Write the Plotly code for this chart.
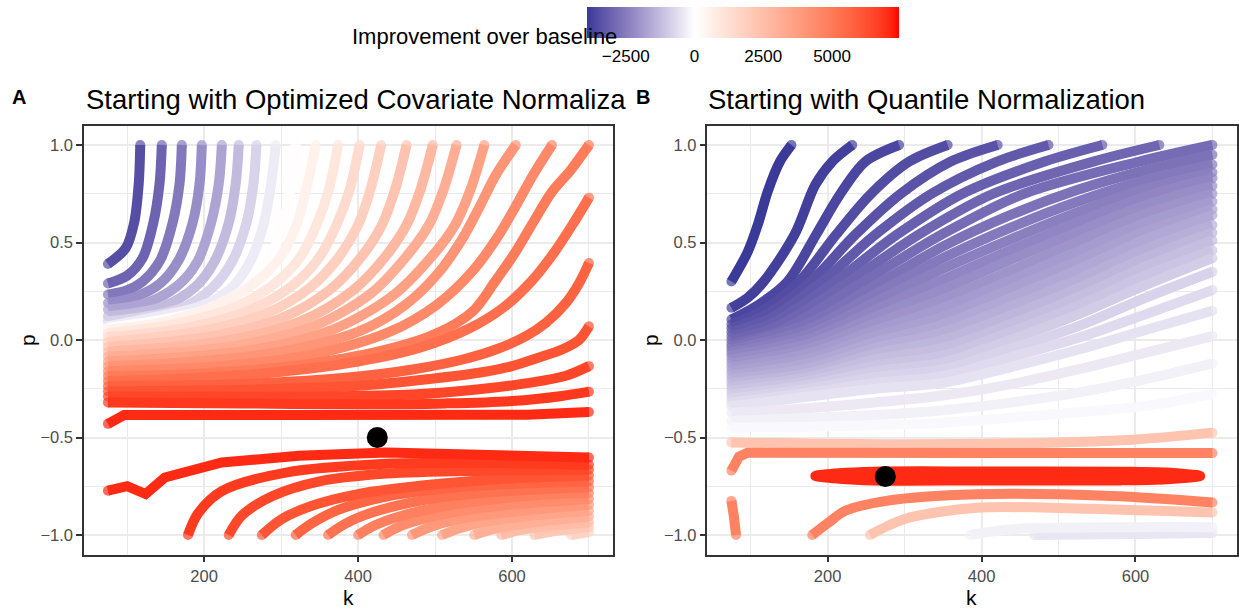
import plotly.graph_objects as go

# ------------------------------------------------------------------
# Colour scale (shared legend)
CB_MIN, CB_MAX = -3908, 7434
CB_TICKS = [-2500, 0, 2500, 5000]
CB_TICKTEXT = ["\u22122500", "0", "2500", "5000"]
LOW, MID, HIGH = "#3A3A98", "#FFFFFF", "#FF0000"

# ------------------------------------------------------------------
# Panel A: contour lines that cross the upper part (level order)
A_UP_LEVEL = [-3450, -3010, -2570, -2130, -1690, -1250, -810, -370, 70,
              510, 950, 1390, 1830, 2270, 2710, 3150, 3590, 4030, 4470,
              4910, 5350, 5750, 6150, 6500, 6800, 7050]
A_UP_K = [
    [117, 115, 109, 98, 75],
    [145, 142, 134, 120, 100, 75],
    [171, 168, 159, 143, 120, 100, 75],
    [197, 194, 185, 167, 143, 110, 75],
    [223, 219, 209, 191, 166, 125, 75],
    [245, 241, 232, 213, 188, 145, 75],
    [268, 264, 255, 236, 210, 168, 75],
    [293, 287, 277, 259, 233, 195, 130, 75],
    [319, 313, 302, 283, 255, 210, 140, 75],
    [345, 332, 320, 298, 268, 216, 152, 75],
    [374, 362, 346, 324, 292, 240, 165, 75],
    [402, 389, 372, 349, 315, 260, 180, 75],
    [430, 416, 400, 374, 338, 280, 195, 75],
    [463, 448, 431, 403, 364, 302, 210, 75],
    [497, 481, 463, 434, 392, 325, 225, 75],
    [528, 511, 492, 461, 417, 345, 240, 75],
    [564, 546, 526, 494, 446, 368, 255, 75],
    [605, 579, 557, 536, 506, 462, 402, 300, 190, 75],
    [652, 628, 604, 580, 548, 502, 440, 340, 220, 75],
    [700, 676, 652, 627, 605, 578, 549, 500, 420, 300, 180, 75],
    [700, 680, 655, 625, 590, 545, 480, 400, 280, 160, 75],
    [700, 687, 670, 644, 618, 579, 536, 471, 380, 250, 75],
    [700, 687, 665, 635, 600, 557, 493, 400, 250, 75],
    [700, 669, 622, 557, 471, 350, 200, 75],
    [700, 665, 600, 514, 400, 250, 75],
    [75, 96, 300, 550, 620, 700],
]
A_UP_P = [
    [1.0, 0.80, 0.60, 0.47, 0.39],
    [1.0, 0.80, 0.60, 0.42, 0.33, 0.29],
    [1.0, 0.80, 0.60, 0.41, 0.30, 0.255, 0.233],
    [1.0, 0.80, 0.60, 0.41, 0.29, 0.22, 0.19],
    [1.0, 0.80, 0.60, 0.40, 0.28, 0.19, 0.156],
    [1.0, 0.80, 0.60, 0.40, 0.27, 0.17, 0.122],
    [1.0, 0.80, 0.60, 0.40, 0.265, 0.16, 0.096],
    [1.0, 0.80, 0.59, 0.395, 0.258, 0.173, 0.113, 0.07],
    [1.0, 0.80, 0.59, 0.40, 0.27, 0.165, 0.10, 0.062],
    [1.0, 0.76, 0.59, 0.42, 0.30, 0.18, 0.096, 0.054],
    [1.0, 0.77, 0.59, 0.42, 0.29, 0.17, 0.085, 0.035],
    [1.0, 0.77, 0.59, 0.42, 0.28, 0.155, 0.065, 0.015],
    [1.0, 0.77, 0.59, 0.42, 0.27, 0.135, 0.045, -0.01],
    [1.0, 0.77, 0.59, 0.42, 0.26, 0.115, 0.02, -0.035],
    [1.0, 0.77, 0.59, 0.42, 0.25, 0.095, -0.005, -0.06],
    [1.0, 0.77, 0.59, 0.42, 0.24, 0.075, -0.03, -0.085],
    [1.0, 0.77, 0.59, 0.42, 0.23, 0.055, -0.055, -0.11],
    [1.0, 0.846, 0.676, 0.523, 0.352, 0.182, 0.045, -0.06, -0.11, -0.135],
    [1.0, 0.85, 0.68, 0.52, 0.35, 0.18, 0.04, -0.075, -0.135, -0.16],
    [1.0, 0.87, 0.76, 0.60, 0.454, 0.30, 0.147, 0.03, -0.065, -0.14, -0.175, -0.185],
    [0.73, 0.60, 0.45, 0.30, 0.17, 0.06, -0.04, -0.11, -0.17, -0.20, -0.21],
    [0.395, 0.29, 0.19, 0.088, 0.02, -0.049, -0.10, -0.151, -0.195, -0.225, -0.237],
    [0.07, 0.0, -0.049, -0.09, -0.134, -0.168, -0.2, -0.235, -0.255, -0.263],
    [-0.134, -0.185, -0.22, -0.253, -0.28, -0.29, -0.29, -0.29],
    [-0.265, -0.287, -0.313, -0.325, -0.33, -0.325, -0.32],
    [-0.43, -0.385, -0.385, -0.39, -0.383, -0.369],
]

# Panel A: contour lines of the lower part
A_LOW_LEVEL = [1714, 2154, 2594, 3034, 3474, 3914, 4354, 4794, 5234, 5674,
               6114, 6450, 6750, 7050]
A_LOW_K = [
    [677, 700],
    [629, 655, 700],
    [586, 610, 645, 700],
    [551, 575, 610, 650, 700],
    [509, 532, 568, 615, 700],
    [470, 493, 530, 580, 640, 700],
    [433, 455, 492, 545, 610, 700],
    [400, 422, 458, 515, 590, 660, 700],
    [361, 382, 418, 480, 560, 640, 700],
    [319, 340, 375, 440, 530, 620, 700],
    [275, 300, 340, 400, 500, 600, 700],
    [232, 249, 289, 350, 437, 568, 700],
    [179, 192, 223, 306, 437, 560, 700],
    [75, 100, 124, 149, 223, 323, 437, 568, 700],
]
A_LOW_P = [
    [-1.0, -0.985],
    [-1.0, -0.98, -0.96],
    [-1.0, -0.975, -0.955, -0.935],
    [-1.0, -0.97, -0.945, -0.925, -0.905],
    [-1.0, -0.965, -0.93, -0.905, -0.875],
    [-1.0, -0.96, -0.92, -0.89, -0.865, -0.845],
    [-1.0, -0.955, -0.91, -0.87, -0.84, -0.815],
    [-1.0, -0.95, -0.90, -0.85, -0.81, -0.79, -0.785],
    [-1.0, -0.945, -0.885, -0.825, -0.785, -0.765, -0.755],
    [-1.0, -0.94, -0.87, -0.80, -0.755, -0.735, -0.725],
    [-1.0, -0.92, -0.85, -0.79, -0.74, -0.71, -0.695],
    [-1.0, -0.9, -0.8, -0.725, -0.685, -0.67, -0.665],
    [-1.0, -0.89, -0.775, -0.68, -0.635, -0.63, -0.64],
    [-0.773, -0.75, -0.79, -0.705, -0.628, -0.594, -0.577, -0.586, -0.603],
]
A_BEST = (425, -0.50)

# ------------------------------------------------------------------
# Panel B: lines that reach the top edge
B_TOP_LEVEL = [-3908, -3770, -3635, -3500, -3365, -3230, -3095, -2960, -2825]
B_TOP_K = [
    [75, 96, 110, 122, 138, 153],
    [75, 96, 117, 157, 184, 206, 232],
    [75, 110, 148, 185, 215, 249, 293],
    [75, 115, 163, 211, 255, 306, 356],
    [75, 120, 178, 236, 295, 360, 421],
    [75, 125, 193, 262, 335, 420, 487],
    [75, 130, 210, 290, 375, 482, 557],
    [75, 135, 228, 318, 415, 545, 631],
    [75, 140, 247, 348, 455, 605, 700],
]
B_TOP_P = [
    [0.30, 0.45, 0.60, 0.76, 0.915, 1.0],
    [0.165, 0.216, 0.30, 0.54, 0.796, 0.915, 1.0],
    [0.105, 0.18, 0.30, 0.54, 0.74, 0.915, 1.0],
    [0.08, 0.15, 0.30, 0.54, 0.744, 0.915, 1.0],
    [0.06, 0.13, 0.30, 0.54, 0.75, 0.915, 1.0],
    [0.04, 0.11, 0.30, 0.54, 0.75, 0.915, 1.0],
    [0.02, 0.09, 0.30, 0.54, 0.75, 0.915, 1.0],
    [0.0, 0.07, 0.30, 0.54, 0.75, 0.915, 1.0],
    [-0.02, 0.05, 0.30, 0.54, 0.75, 0.915, 1.0],
]
# Panel B: lines that reach the right edge (read at common k columns)
B_RIGHT_LEVEL = [-2690, -2555, -2420, -2285, -2150, -2015, -1880, -1745,
                 -1610, -1475, -1340, -1205, -1070, -935, -800, -665, -530,
                 -395, -260, -125]
B_RIGHT_K = [75, 175, 262, 350, 437, 525, 612, 700]
B_RIGHT_P = [
    [-0.035, 0.085, 0.28, 0.48, 0.64, 0.77, 0.87, 0.95],
    [-0.05, 0.055, 0.235, 0.42, 0.575, 0.71, 0.82, 0.90],
    [-0.065, 0.03, 0.195, 0.365, 0.515, 0.655, 0.775, 0.86],
    [-0.08, 0.005, 0.155, 0.31, 0.46, 0.605, 0.735, 0.83],
    [-0.10, -0.02, 0.12, 0.26, 0.41, 0.555, 0.69, 0.79],
    [-0.12, -0.045, 0.085, 0.21, 0.355, 0.505, 0.645, 0.75],
    [-0.14, -0.07, 0.05, 0.165, 0.305, 0.455, 0.60, 0.71],
    [-0.16, -0.095, 0.02, 0.12, 0.26, 0.405, 0.555, 0.67],
    [-0.18, -0.12, -0.01, 0.08, 0.215, 0.36, 0.515, 0.64],
    [-0.20, -0.145, -0.04, 0.04, 0.17, 0.31, 0.465, 0.59],
    [-0.22, -0.17, -0.07, 0.0, 0.125, 0.265, 0.42, 0.55],
    [-0.24, -0.19, -0.10, -0.04, 0.08, 0.22, 0.375, 0.51],
    [-0.26, -0.21, -0.13, -0.08, 0.04, 0.175, 0.33, 0.46],
    [-0.28, -0.23, -0.16, -0.115, 0.0, 0.13, 0.28, 0.42],
    [-0.30, -0.25, -0.19, -0.15, -0.045, 0.07, 0.215, 0.35],
    [-0.32, -0.27, -0.22, -0.185, -0.09, 0.01, 0.13, 0.256],
    [-0.34, -0.29, -0.25, -0.22, -0.14, -0.05, 0.05, 0.15],
    [-0.373, -0.35, -0.32, -0.285, -0.228, -0.151, -0.066, 0.02],
    [-0.415, -0.40, -0.385, -0.36, -0.321, -0.27, -0.202, -0.12],
    [-0.449, -0.445, -0.437, -0.425, -0.398, -0.37, -0.339, -0.277],
]
# Panel B: remaining lines near the optimum / bottom
B_LOW_LEVEL = [-450, -250, 2300, 2300, 4700, 4700, 4700]
B_LOW_K = [
    [468, 600, 700],
    [385, 440, 600, 700],
    [75, 300, 500, 600, 700],
    [255, 280, 307, 394, 524, 700],
    [75, 85, 96, 300, 500, 700],
    [180, 200, 223, 276, 394, 569, 700],
    [75, 78, 81],
]
B_LOW_P = [
    [-1.0, -0.995, -0.99],
    [-1.0, -0.97, -0.96, -0.96],
    [-0.525, -0.535, -0.525, -0.51, -0.475],
    [-1.0, -0.95, -0.91, -0.86, -0.864, -0.885],
    [-0.67, -0.598, -0.578, -0.578, -0.578, -0.58],
    [-1.0, -0.94, -0.876, -0.825, -0.791, -0.80, -0.833],
    [-0.825, -0.9, -1.0],
]
# Panel B: closed contour around the maximum
B_PEAK_LEVEL = 7050
B_PEAK_K = [184, 215, 260, 400, 580, 640, 684, 640, 580, 400, 260, 215, 184]
B_PEAK_P = [-0.697, -0.683, -0.675, -0.674, -0.675, -0.68, -0.697,
            -0.714, -0.72, -0.72, -0.72, -0.711, -0.697]
B_BEST = (275, -0.70)

K_TICKS = [200, 400, 600]
K_MINOR = [100, 300, 500, 700]
P_TICKS = [-1.0, -0.5, 0.0, 0.5, 1.0]
P_TICKTEXT = ["\u22121.0", "\u22120.5", "0.0", "0.5", "1.0"]
P_MINOR = [-0.75, -0.25, 0.25, 0.75]


# ------------------------------------------------------------------
# colour helpers (CIELAB interpolation like ggplot/scales)
def _lin(c):
    c = c / 255.0
    return c / 12.92 if c <= 0.04045 else ((c + 0.055) / 1.055) ** 2.4


def _gam(c):
    if c <= 0:
        return 0
    v = 12.92 * c if c <= 0.0031308 else 1.055 * c ** (1 / 2.4) - 0.055
    return max(0, min(255, round(v * 255)))


def hex_to_lab(h):
    r, g, b = [_lin(int(h[i:i + 2], 16)) for i in (1, 3, 5)]
    x = (0.4124 * r + 0.3576 * g + 0.1805 * b) / 0.95047
    y = (0.2126 * r + 0.7152 * g + 0.0722 * b)
    z = (0.0193 * r + 0.1192 * g + 0.9505 * b) / 1.08883

    def f(t):
        return t ** (1 / 3) if t > 0.008856 else 7.787 * t + 16 / 116
    fx, fy, fz = f(x), f(y), f(z)
    return (116 * fy - 16, 500 * (fx - fy), 200 * (fy - fz))


def lab_to_hex(L, a, b):
    fy = (L + 16) / 116
    fx = fy + a / 500
    fz = fy - b / 200

    def finv(t):
        return t ** 3 if t ** 3 > 0.008856 else (t - 16 / 116) / 7.787
    x = finv(fx) * 0.95047
    y = finv(fy)
    z = finv(fz) * 1.08883
    r = 3.2406 * x - 1.5372 * y - 0.4986 * z
    g = -0.9689 * x + 1.8758 * y + 0.0415 * z
    bb = 0.0557 * x - 0.2040 * y + 1.0570 * z
    return "#%02X%02X%02X" % (_gam(r), _gam(g), _gam(bb))


LAB_LOW, LAB_MID, LAB_HIGH = hex_to_lab(LOW), hex_to_lab(MID), hex_to_lab(HIGH)


def level_color(v):
    if v <= 0:
        t = (v - CB_MIN) / (0 - CB_MIN)
        a, b = LAB_LOW, LAB_MID
    else:
        t = v / CB_MAX
        a, b = LAB_MID, LAB_HIGH
    t = max(0.0, min(1.0, t))
    return lab_to_hex(*[a[i] + (b[i] - a[i]) * t for i in range(3)])


z0 = (0 - CB_MIN) / (CB_MAX - CB_MIN)
stops = [[i / 60, level_color(CB_MIN + i / 60 * (CB_MAX - CB_MIN))] for i in range(61)]
stops.append([z0, "#FFFFFF"])
stops.sort(key=lambda s: s[0])
COLORSCALE = stops

LW = 10
FONT = "Liberation Sans"
fig = go.Figure()


def add_line(k, p, level, xa, ya, shape="spline", caps=True):
    c = level_color(level)
    n = len(k)
    if caps:
        sizes = [LW] + [0] * (n - 2) + [LW] if n > 1 else [LW]
        mode = "lines+markers"
    else:
        sizes = [0] * n
        mode = "lines"
    fig.add_trace(go.Scatter(
        x=k, y=p, mode=mode, xaxis=xa, yaxis=ya,
        line=dict(color=c, width=LW, shape=shape, smoothing=0.9),
        marker=dict(size=sizes, color=c, line=dict(width=0)),
        hoverinfo="skip", showlegend=False))


# Panel A
a_lines = []
for lv, k, p in zip(A_UP_LEVEL, A_UP_K, A_UP_P):
    a_lines.append((lv, k, p))
for lv, k, p in zip(A_LOW_LEVEL, A_LOW_K, A_LOW_P):
    a_lines.append((lv, k, p))
a_lines.sort(key=lambda t: t[0])
for lv, k, p in a_lines:
    kinked = (k[:3] == [75, 100, 124]) or (k[:2] == [75, 96])
    add_line(k, p, lv, "x", "y", shape="linear" if kinked else "spline")

# Panel B
b_lines = []
for lv, k, p in zip(B_TOP_LEVEL, B_TOP_K, B_TOP_P):
    b_lines.append((lv, k, p))
for lv, p in zip(B_RIGHT_LEVEL, B_RIGHT_P):
    b_lines.append((lv, B_RIGHT_K, p))
for lv, k, p in zip(B_LOW_LEVEL, B_LOW_K, B_LOW_P):
    b_lines.append((lv, k, p))
b_lines.sort(key=lambda t: t[0])
for lv, k, p in b_lines:
    kinked = k[:3] == [75, 85, 96]
    add_line(k, p, lv, "x2", "y2", shape="linear" if kinked else "spline")
add_line(B_PEAK_K, B_PEAK_P, B_PEAK_LEVEL, "x2", "y2", shape="spline", caps=False)

# best points
fig.add_trace(go.Scatter(x=[A_BEST[0]], y=[A_BEST[1]], mode="markers", xaxis="x", yaxis="y",
                         marker=dict(size=21, color="black"), hoverinfo="skip", showlegend=False))
fig.add_trace(go.Scatter(x=[B_BEST[0]], y=[B_BEST[1]], mode="markers", xaxis="x2", yaxis="y2",
                         marker=dict(size=21, color="black"), hoverinfo="skip", showlegend=False))

# colour bar carrier
fig.add_trace(go.Scatter(
    x=[400], y=[0], mode="markers", xaxis="x", yaxis="y", hoverinfo="skip", showlegend=False,
    marker=dict(size=0.1, opacity=0, color=[CB_MIN], cmin=CB_MIN, cmax=CB_MAX,
                colorscale=COLORSCALE, showscale=True,
                colorbar=dict(orientation="h", x=744.2 / 1239, xanchor="center",
                              y=1 - 6.7 / 609, yanchor="top", len=311.7, lenmode="pixels",
                              thickness=30.6, thicknessmode="pixels", outlinewidth=0,
                              xpad=0, ypad=0, tickvals=CB_TICKS, ticktext=CB_TICKTEXT,
                              ticks="outside", ticklen=4, tickcolor="rgba(0,0,0,0)",
                              tickfont=dict(family=FONT, size=17, color="black")))))

W, H = 1239, 609
axis_common = dict(
    showline=True, mirror=True, linecolor="#333333", linewidth=2,
    showgrid=True, gridcolor="#EBEBEB", gridwidth=2, zeroline=False,
    ticks="outside", ticklen=5.6, tickwidth=1.5, tickcolor="#333333",
    tickfont=dict(family=FONT, size=16.5, color="#4D4D4D"),
)
xa = dict(axis_common, range=[43.75, 731.25], tickvals=K_TICKS,
          minor=dict(tickvals=K_MINOR, showgrid=True, gridcolor="#EBEBEB", gridwidth=1, ticks=""))
ya = dict(axis_common, range=[-1.1, 1.1], tickvals=P_TICKS, ticktext=P_TICKTEXT,
          minor=dict(tickvals=P_MINOR, showgrid=True, gridcolor="#EBEBEB", gridwidth=1, ticks=""))
ydom = [(H - 554.5) / H, (H - 125.5) / H]

fig.update_layout(
    width=W, height=H, margin=dict(l=0, r=0, t=0, b=0),
    paper_bgcolor="white", plot_bgcolor="white",
    xaxis=dict(xa, domain=[84 / W, 614 / W], anchor="y"),
    yaxis=dict(ya, domain=ydom, anchor="x"),
    xaxis2=dict(xa, domain=[708.5 / W, 1238.5 / W], anchor="y2"),
    yaxis2=dict(ya, domain=ydom, anchor="x2"),
    font=dict(family=FONT, color="black"),
)


def ann(text, x, y, size, xanchor="left", bold=False, angle=0):
    fig.add_annotation(text=("<b>%s</b>" % text) if bold else text,
                       x=x / W, y=1 - y / H, xref="paper", yref="paper",
                       xanchor=xanchor, yanchor="middle", showarrow=False,
                       textangle=angle, font=dict(family=FONT, size=size, color="black"))


ann("A", 10, 97, 20, bold=True)
ann("Starting with Optimized Covariate Normaliza", 84, 99, 27.5)
ann("B", 635, 97, 20, bold=True)
ann("Starting with Quantile Normalization", 707, 99, 27.5)
ann("Improvement over baseline", 351, 36, 22)
ann("k", 349, 597, 21, xanchor="center")
ann("k", 973, 597, 21, xanchor="center")
ann("p", 27, 340, 21, xanchor="center", angle=-90)
ann("p", 651, 340, 21, xanchor="center", angle=-90)

fig.write_html("out.html", config={"displayModeBar": False},
               post_script="document.body.style.margin='0px';document.body.style.overflow='hidden';")
